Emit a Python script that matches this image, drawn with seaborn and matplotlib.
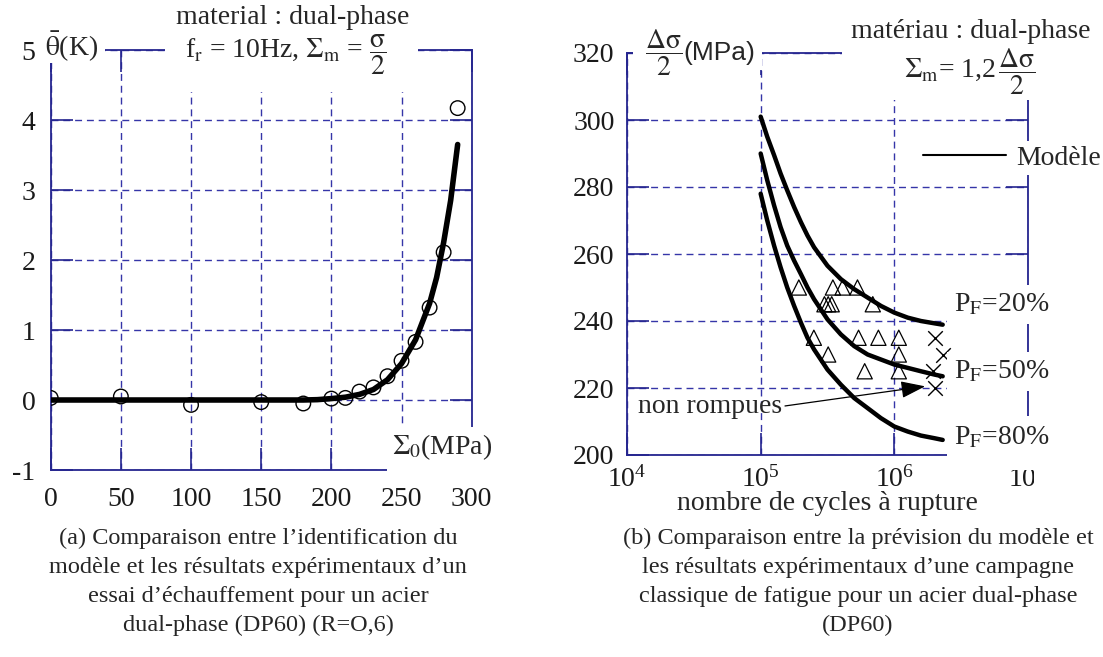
import matplotlib
matplotlib.use("Agg")
import matplotlib.pyplot as plt
from matplotlib.patches import Rectangle
from matplotlib.ticker import NullLocator
import seaborn as sns

# (a) essai d'echauffement : points experimentaux et modele identifie
sigma0_exp = [0, 50, 100, 150, 180, 200, 210, 220, 230, 240, 250, 260, 270, 280, 290]
theta_exp = [0.03, 0.05, -0.07, -0.03, -0.05, 0.02, 0.03, 0.12, 0.18, 0.34, 0.56, 0.83, 1.32, 2.11, 4.17]
sigma0_mod = [0, 150, 180, 190, 200, 210, 220, 230, 240, 250, 260, 270, 275, 280, 285, 290]
theta_mod = [0, 0, 0, 0.005, 0.02, 0.04, 0.08, 0.15, 0.29, 0.52, 0.86, 1.38, 1.75, 2.25, 2.85, 3.65]

# (b) courbes de Wohler du modele pour P_F = 20, 50, 80 %
n_model = [1e5, 1.12e5, 1.26e5, 1.41e5, 1.58e5, 1.78e5, 2e5, 2.24e5, 2.51e5, 3.16e5,
           3.98e5, 5.01e5, 6.31e5, 7.94e5, 1e6, 1.26e6, 1.58e6, 2e6, 2.3e6]
s_p20 = [301, 295, 289.5, 284, 279, 274, 269.5, 265.5, 262, 256.5,
         252.5, 249.5, 247, 244.5, 242.5, 241, 240, 239.3, 238.9]
s_p50 = [290, 282, 274.5, 268, 262.5, 258, 254, 250, 246.5, 240.5,
         236, 232.5, 230, 228.5, 227, 226, 225, 224, 223.5]
s_p80 = [278, 270, 262.5, 256, 250, 244.5, 239.5, 235, 231.5, 225.5,
         221, 217, 214, 211, 208.5, 207, 205.8, 205, 204.5]
pf_labels = ["20%", "50%", "80%"]
pf_label_y = [244.9, 225, 205.2]

# essais rompus (triangles) et non rompus (croix)
n_rompu = [1.93e5, 3.47e5, 4.1e5, 5.3e5, 3.0e5, 3.2e5, 3.4e5, 6.9e5,
           2.5e5, 5.4e5, 7.6e5, 1.08e6, 3.2e5, 1.08e6, 6.0e5, 1.08e6]
s_rompu = [250, 250, 250, 250, 245, 245, 245, 245,
           235, 235, 235, 235, 230, 230, 225, 225]
n_non_rompu = [2.0e6, 2.3e6, 1.95e6, 2.0e6]
s_non_rompu = [235, 230, 225, 220]

BLUE = "#25258f"
GRID = "#3535a8"
FS = 20

sns.set_theme(style="white")
plt.rcParams["font.family"] = ["Liberation Serif", "DejaVu Serif"]
plt.rcParams["mathtext.fontset"] = "stix"
plt.rcParams["axes.unicode_minus"] = False

fig = plt.figure(figsize=(11.03, 6.57), dpi=100)
W, H = 1103, 657


def px(x, y):
    return x / W, 1 - y / H


def white(pad):
    return dict(facecolor="white", edgecolor="none", pad=pad)


def mask(ax, x0, y0, x1, y1):
    # cache blanc (pixels) pour les interruptions du cadre sous les textes
    ax.add_patch(Rectangle(px(x0, y1), (x1 - x0) / W, (y1 - y0) / H,
                           transform=fig.transFigure, facecolor="white",
                           edgecolor="none", zorder=6, clip_on=False))


ax1 = fig.add_axes([50.7 / W, 1 - 470 / H, 421 / W, 420 / H])
ax2 = fig.add_axes([627 / W, 1 - 455 / H, 401 / W, 402 / H])

for ax in (ax1, ax2):
    for s in ax.spines.values():
        s.set_color(BLUE)
        s.set_linewidth(1.3)
    ax.grid(True, color=GRID, linestyle=(0, (5, 3.5)), linewidth=1)
    ax.tick_params(direction="in", length=16, width=1.2, color=BLUE,
                   top=True, right=True, bottom=True, left=True,
                   labelsize=FS, labelcolor="#1a1a1a")

# ---- (a)
sns.lineplot(x=sigma0_mod, y=theta_mod, ax=ax1, color="black", linewidth=4,
             sort=False, estimator=None, zorder=3)
sns.scatterplot(x=sigma0_exp, y=theta_exp, ax=ax1, marker="o", s=110,
                facecolor="none", edgecolor="black", linewidth=1.0, zorder=4)
ax1.set_xlim(0, 300)
ax1.set_ylim(-1, 5)
ax1.set_xticks(range(0, 301, 50))
ax1.set_yticks(range(-1, 6))
ax1.tick_params(axis="x", pad=12)
ax1.tick_params(axis="y", pad=11)

mask(ax1, 42, 28, 105, 63)
mask(ax1, 165, 30, 418, 92)
mask(ax1, 387, 427, 500, 476)
fig.text(*px(45, 47), r"$\bar{\mathrm{\theta}}$(K)", fontsize=FS, ha="left", va="center",
         zorder=10)
fig.text(*px(293, 18), "material : dual-phase", fontsize=FS, ha="center", va="center",
         zorder=10)
fig.text(*px(286, 55), r"f$_{\rm r}$ = 10Hz, $\Sigma_{\rm m}$ = $\dfrac{\mathrm{\sigma}}{2}$",
         fontsize=FS, ha="center", va="center", zorder=10)
fig.text(*px(392, 447), r"$\Sigma_0$(MPa)", fontsize=FS, ha="left", va="center",
         zorder=10)

# ---- (b)
for s_curve in (s_p20, s_p50, s_p80):
    sns.lineplot(x=n_model, y=s_curve, ax=ax2, color="black", linewidth=3.2,
                 sort=False, estimator=None, zorder=3)
sns.scatterplot(x=n_rompu, y=s_rompu, ax=ax2, marker="^", s=120,
                facecolor="none", edgecolor="black", linewidth=0.9, zorder=4)
sns.scatterplot(x=n_non_rompu, y=s_non_rompu, ax=ax2, marker="x", s=110,
                color="black", linewidth=1.0, zorder=4)
ax2.set_xscale("log")
ax2.set_xlim(1e4, 1e7)
ax2.set_ylim(200, 320)
ax2.set_xticks([1e4, 1e5, 1e6, 1e7])
ax2.xaxis.set_minor_locator(NullLocator())
ax2.set_yticks(range(200, 321, 20))
ax2.tick_params(axis="x", pad=8)
ax2.tick_params(axis="y", pad=9)
ax2.set_xlabel("nombre de cycles à rupture", fontsize=FS, labelpad=-1)

ax2.plot([], [], color="black", linewidth=1.5, label="Modèle")
ax2.legend(loc="center left", bbox_to_anchor=(0.728, 0.739), fontsize=FS,
           frameon=True, framealpha=1, facecolor="white", edgecolor="none",
           borderpad=0.15, borderaxespad=0, handlelength=3.0, handletextpad=0.35)

mask(ax2, 633, 35, 762, 70)
mask(ax2, 842, 40, 1040, 100)
mask(ax2, 955, 416, 1060, 470)
mask(ax2, 1034, 455, 1060, 482)
fig.text(*px(645, 53), r"$\dfrac{\Delta\mathrm{\sigma}}{2}$", fontsize=FS, ha="left",
         va="center", zorder=10)
fig.text(*px(683, 53), "(MPa)", fontsize=FS - 1, family="Liberation Sans", ha="left",
         va="center", zorder=10)
fig.text(*px(971, 32), "matériau : dual-phase", fontsize=FS, ha="center", va="center",
         zorder=10)
fig.text(*px(970, 72), r"$\Sigma_{\rm m}$= 1,2$\,\dfrac{\Delta\mathrm{\sigma}}{2}$",
         fontsize=FS, ha="center", va="center", zorder=10)

for lab, yv in zip(pf_labels, pf_label_y):
    ax2.text(2.8e6, yv, r"P$_{\rm F}$=" + lab, fontsize=FS, ha="left", va="center",
             bbox=white(5), zorder=10)

ax2.annotate("non rompues", xy=(1.7e6, 220.5), xytext=(1.2e4, 214.5), fontsize=FS,
             ha="left", va="center", zorder=10,
             arrowprops=dict(arrowstyle="-|>,head_length=1.0,head_width=0.35",
                             mutation_scale=15, color="black", linewidth=0.9,
                             relpos=(1, 0.5), shrinkA=0, shrinkB=0))

# legendes des sous-figures
cap_a = ("(a) Comparaison entre l’identification du\n"
         "modèle et les résultats expérimentaux d’un\n"
         "essai d’échauffement pour un acier\n"
         "dual-phase (DP60) (R=O,6)")
cap_b = ("(b) Comparaison entre la prévision du modèle et\n"
         "les résultats expérimentaux d’une campagne\n"
         "classique de fatigue pour un acier dual-phase\n"
         "(DP60)")
fig.text(*px(258, 582), cap_a, fontsize=17.5, ha="center", va="center", linespacing=1.5)
fig.text(*px(858, 582), cap_b, fontsize=17.5, ha="center", va="center", linespacing=1.5)

fig.savefig("out.png", dpi=100, facecolor="white")
